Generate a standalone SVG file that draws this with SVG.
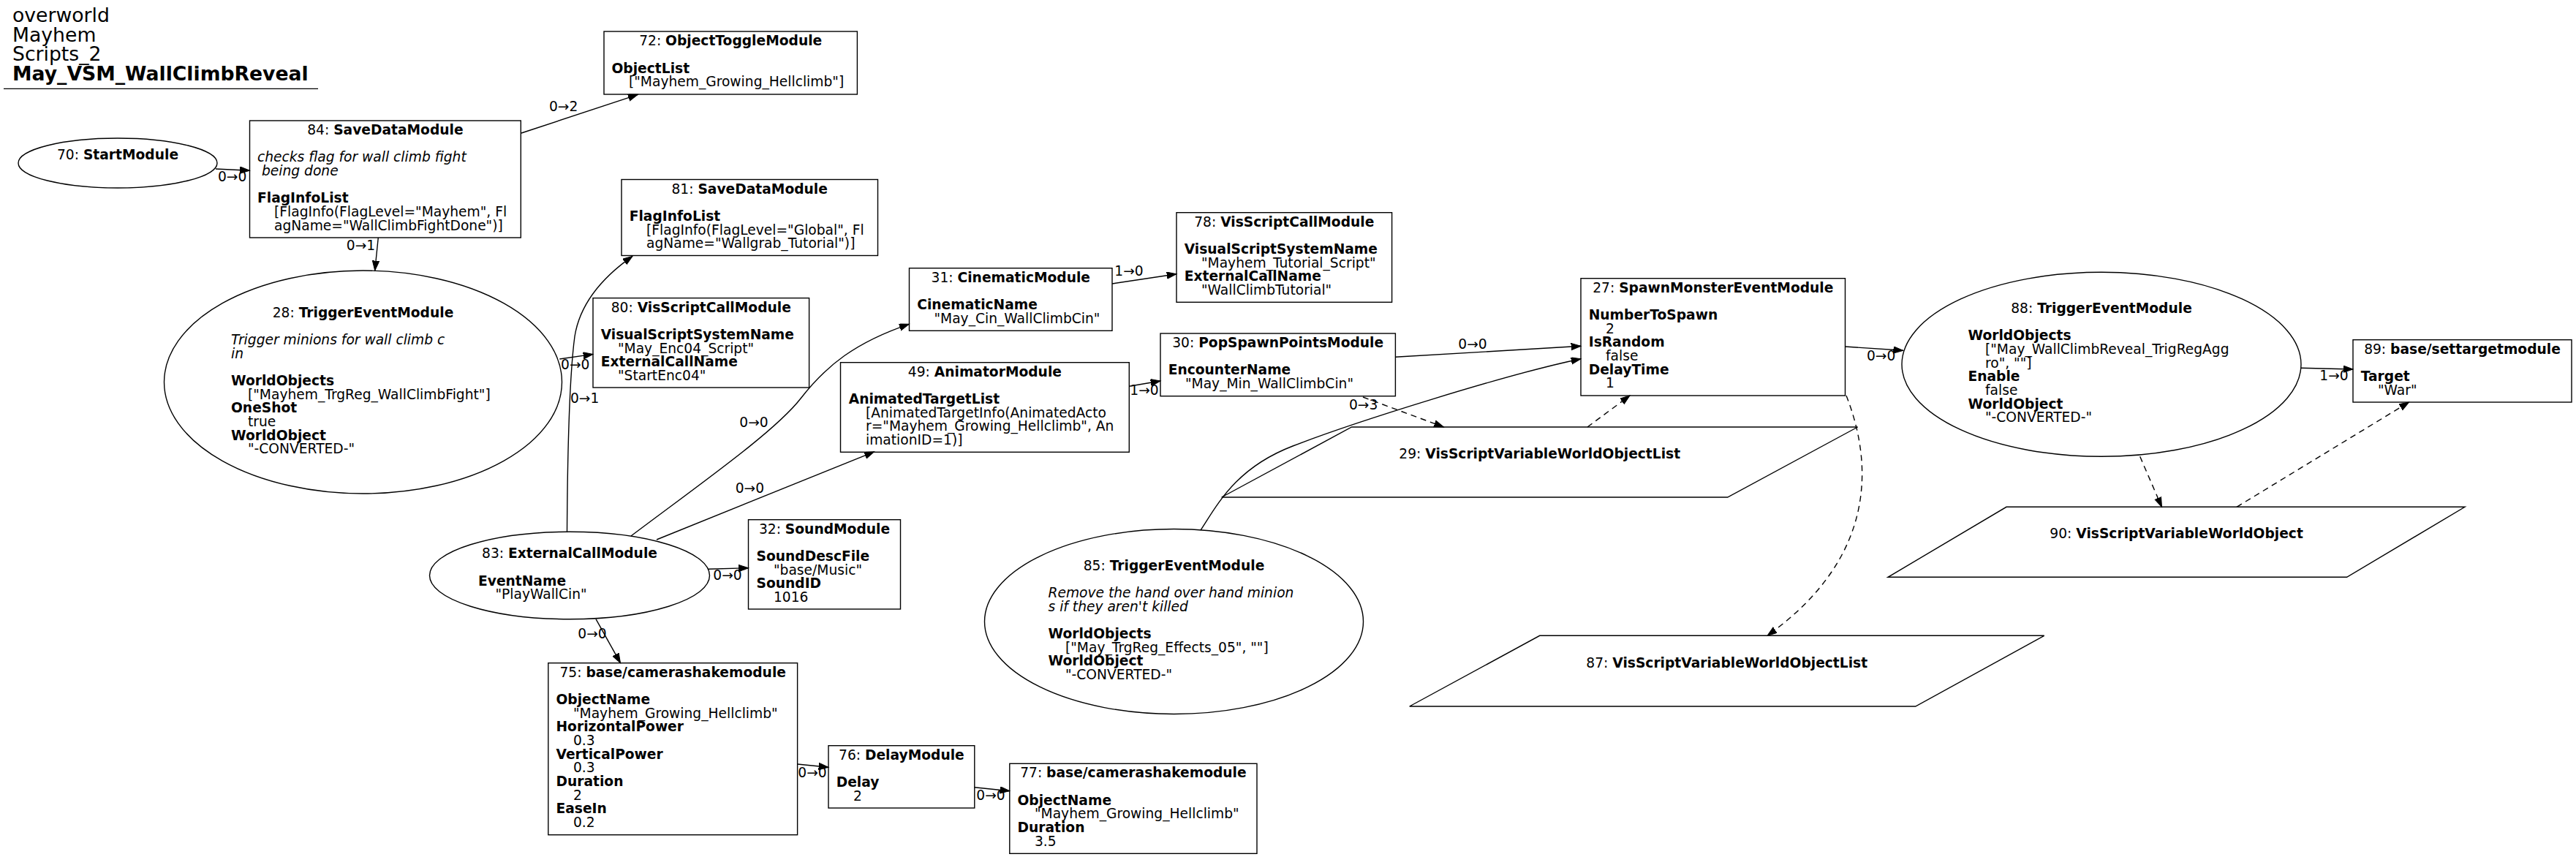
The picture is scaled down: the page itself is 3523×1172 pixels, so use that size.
<svg xmlns="http://www.w3.org/2000/svg" width="3523" height="1172" viewBox="0 0 3523 1172">
<style>
.n{fill:none;stroke:#000;stroke-width:1.4}
.e{fill:none;stroke:#000;stroke-width:1.4}
.d{stroke-dasharray:8,6}
text{font-family:"DejaVu Sans","Liberation Sans",sans-serif;font-size:18.67px;fill:#000}
.c{text-anchor:middle}
.b{font-weight:bold}
.i{font-style:italic}
.h{font-size:26.67px}
</style>
<defs>
<marker id="a" markerWidth="15" markerHeight="11" refX="13.3" refY="4.7" orient="auto" markerUnits="userSpaceOnUse">
<path d="M0,0 L13.3,4.7 L0,9.4 z" fill="#000" stroke="#000" stroke-width="1"/>
</marker>
</defs>
<rect x="0" y="0" width="3523" height="1172" fill="#fff"/>
<g id="title">
<text class="h" x="17" y="30">overworld</text>
<text class="h" x="17" y="56.7">Mayhem</text>
<text class="h" x="17" y="83.3">Scripts_2</text>
<text class="h b" x="17" y="110">May_VSM_WallClimbReveal</text>
<line x1="5" y1="121.4" x2="435" y2="121.4" stroke="#000" stroke-width="1.4"/>
</g>
<g id="edges">
<path class="e" d="M295,231 L341.5,233.3" marker-end="url(#a)"/>
<text class="c" x="317.6" y="248">0→0</text>
<path class="e" d="M713,182 L872.4,129.3" marker-end="url(#a)"/>
<text class="c" x="770.7" y="152">0→2</text>
<path class="e" d="M517.3,325 L512.7,370" marker-end="url(#a)"/>
<text class="c" x="493.5" y="341.7">0→1</text>
<path class="e" d="M765.3,491 L811,484.4" marker-end="url(#a)"/>
<text class="c" x="786.8" y="504.6">0→0</text>
<path class="e" d="M775.5,727 C776,640 778,520 786,460 C794,410 830,375 865,350.4" marker-end="url(#a)"/>
<text class="c" x="799.7" y="550.5">0→1</text>
<path class="e" d="M863,733 C960,660 1060,590 1095,545 C1130,500 1170,468 1243.3,443.3" marker-end="url(#a)"/>
<text class="c" x="1031" y="583.6">0→0</text>
<path class="e" d="M898,738 L1195.5,617.8" marker-end="url(#a)"/>
<text class="c" x="1025.4" y="674">0→0</text>
<path class="e" d="M968.7,778.3 L1023.5,776.7" marker-end="url(#a)"/>
<text class="c" x="995" y="793">0→0</text>
<path class="e" d="M815,846.7 L848.5,906.7" marker-end="url(#a)"/>
<text class="c" x="810" y="873">0→0</text>
<path class="e" d="M1090.6,1045 L1133,1049.3" marker-end="url(#a)"/>
<text class="c" x="1111" y="1063">0→0</text>
<path class="e" d="M1332.8,1076.7 L1380.8,1081.7" marker-end="url(#a)"/>
<text class="c" x="1355" y="1094">0→0</text>
<path class="e" d="M1521,388 L1609,374.7" marker-end="url(#a)"/>
<text class="c" x="1544" y="377">1→0</text>
<path class="e" d="M1544.3,528.3 L1587,521" marker-end="url(#a)"/>
<text class="c" x="1565" y="539.5">1→0</text>
<path class="e" d="M1908.3,488.3 L2162,473.3" marker-end="url(#a)"/>
<text class="c" x="2014" y="477">0→0</text>
<path class="e" d="M1642,725 C1665,690 1690,640 1768,610 C1850,578 2060,512 2162,490.7" marker-end="url(#a)"/>
<path class="e d" d="M1864,543 L1974.4,584" marker-end="url(#a)"/>
<text class="c" x="1864.7" y="560">0→3</text>
<path class="e d" d="M2171,584 L2229,541" marker-end="url(#a)"/>
<path class="e d" d="M2525,541 C2560,630 2570,760 2417,869.3" marker-end="url(#a)"/>
<path class="e" d="M2523.5,474 L2602.7,479.3" marker-end="url(#a)"/>
<text class="c" x="2572.6" y="492.5">0→0</text>
<path class="e" d="M3147,503.3 L3218,505" marker-end="url(#a)"/>
<text class="c" x="3192" y="520">1→0</text>
<path class="e d" d="M2926.7,624.3 L2956.5,693.3" marker-end="url(#a)"/>
<path class="e d" d="M3059,693.3 L3294.6,550" marker-end="url(#a)"/>
</g>
<g id="n70">
<ellipse class="n" cx="161" cy="223" rx="136" ry="34"/>
<text class="c" x="161" y="218">70: <tspan class="b">StartModule</tspan></text>
</g>
<g id="n84">
<rect class="n" x="341.5" y="165" width="370.8" height="160"/>
<text class="c" x="526.9" y="184">84: <tspan class="b">SaveDataModule</tspan></text>
<text class="i" x="352" y="221.3">checks flag for wall climb fight</text>
<text class="i" x="358" y="240">being done</text>
<text class="b" x="352" y="277.3">FlagInfoList</text>
<text x="375" y="296">[FlagInfo(FlagLevel="Mayhem", Fl</text>
<text x="375" y="314.7">agName="WallClimbFightDone")]</text>
</g>
<g id="n72">
<rect class="n" x="826" y="43" width="346.4" height="86"/>
<text class="c" x="999.2" y="62">72: <tspan class="b">ObjectToggleModule</tspan></text>
<text class="b" x="836.5" y="99.5">ObjectList</text>
<text x="860" y="118">["Mayhem_Growing_Hellclimb"]</text>
</g>
<g id="n81">
<rect class="n" x="850" y="245.5" width="350.5" height="104"/>
<text class="c" x="1025.2" y="264.5">81: <tspan class="b">SaveDataModule</tspan></text>
<text class="b" x="860.7" y="302">FlagInfoList</text>
<text x="884" y="320.5">[FlagInfo(FlagLevel="Global", Fl</text>
<text x="884" y="339.2">agName="Wallgrab_Tutorial")]</text>
</g>
<g id="n28">
<ellipse class="n" cx="496.5" cy="522.5" rx="272" ry="152.5"/>
<text class="c" x="496.5" y="433.5">28: <tspan class="b">TriggerEventModule</tspan></text>
<text class="i" x="316" y="470.8">Trigger minions for wall climb c</text>
<text class="i" x="316" y="489.5">in</text>
<text class="b" x="316" y="526.8">WorldObjects</text>
<text x="339" y="545.5">["Mayhem_TrgReg_WallClimbFight"]</text>
<text class="b" x="316" y="564.2">OneShot</text>
<text x="339" y="582.8">true</text>
<text class="b" x="316" y="601.5">WorldObject</text>
<text x="339" y="620.2">"-CONVERTED-"</text>
</g>
<g id="n80">
<rect class="n" x="811" y="407.6" width="295.6" height="122.4"/>
<text class="c" x="958.8" y="426.6">80: <tspan class="b">VisScriptCallModule</tspan></text>
<text class="b" x="821.7" y="463.9">VisualScriptSystemName</text>
<text x="845" y="482.6">"May_Enc04_Script"</text>
<text class="b" x="821.7" y="501.3">ExternalCallName</text>
<text x="845" y="520">"StartEnc04"</text>
</g>
<g id="n83">
<ellipse class="n" cx="779" cy="787" rx="191.5" ry="59.7"/>
<text class="c" x="779" y="763.4">83: <tspan class="b">ExternalCallModule</tspan></text>
<text class="b" x="654" y="800.7">EventName</text>
<text x="677.5" y="819.4">"PlayWallCin"</text>
</g>
<g id="n32">
<rect class="n" x="1023.5" y="710.7" width="208" height="122.3"/>
<text class="c" x="1127.5" y="729.7">32: <tspan class="b">SoundModule</tspan></text>
<text class="b" x="1034.5" y="767">SoundDescFile</text>
<text x="1058" y="785.7">"base/Music"</text>
<text class="b" x="1034.5" y="804.4">SoundID</text>
<text x="1058" y="823">1016</text>
</g>
<g id="n75">
<rect class="n" x="749.8" y="906.7" width="340.8" height="235"/>
<text class="c" x="920.2" y="925.7">75: <tspan class="b">base/camerashakemodule</tspan></text>
<text class="b" x="760.5" y="963">ObjectName</text>
<text x="784" y="981.7">"Mayhem_Growing_Hellclimb"</text>
<text class="b" x="760.5" y="1000.4">HorizontalPower</text>
<text x="784" y="1019">0.3</text>
<text class="b" x="760.5" y="1037.7">VerticalPower</text>
<text x="784" y="1056.4">0.3</text>
<text class="b" x="760.5" y="1075">Duration</text>
<text x="784" y="1093.7">2</text>
<text class="b" x="760.5" y="1112.4">EaseIn</text>
<text x="784" y="1131">0.2</text>
</g>
<g id="n76">
<rect class="n" x="1133" y="1019.7" width="199.8" height="85.3"/>
<text class="c" x="1232.9" y="1038.7">76: <tspan class="b">DelayModule</tspan></text>
<text class="b" x="1143.7" y="1076">Delay</text>
<text x="1167" y="1094.7">2</text>
</g>
<g id="n77">
<rect class="n" x="1380.8" y="1044.3" width="338.2" height="123"/>
<text class="c" x="1549.9" y="1063.3">77: <tspan class="b">base/camerashakemodule</tspan></text>
<text class="b" x="1391.5" y="1100.6">ObjectName</text>
<text x="1415" y="1119.3">"Mayhem_Growing_Hellclimb"</text>
<text class="b" x="1391.5" y="1138">Duration</text>
<text x="1415" y="1156.7">3.5</text>
</g>
<g id="n31">
<rect class="n" x="1243.5" y="366.7" width="277.5" height="85.6"/>
<text class="c" x="1382.3" y="385.7">31: <tspan class="b">CinematicModule</tspan></text>
<text class="b" x="1254.2" y="423">CinematicName</text>
<text x="1277.5" y="441.7">"May_Cin_WallClimbCin"</text>
</g>
<g id="n78">
<rect class="n" x="1609" y="290.7" width="294.6" height="122.6"/>
<text class="c" x="1756.3" y="309.7">78: <tspan class="b">VisScriptCallModule</tspan></text>
<text class="b" x="1619.7" y="347">VisualScriptSystemName</text>
<text x="1643" y="365.7">"Mayhem_Tutorial_Script"</text>
<text class="b" x="1619.7" y="384.4">ExternalCallName</text>
<text x="1643" y="403">"WallClimbTutorial"</text>
</g>
<g id="n49">
<rect class="n" x="1149.5" y="495.7" width="394.8" height="122.6"/>
<text class="c" x="1346.9" y="514.7">49: <tspan class="b">AnimatorModule</tspan></text>
<text class="b" x="1160.7" y="552">AnimatedTargetList</text>
<text x="1184" y="570.7">[AnimatedTargetInfo(AnimatedActo</text>
<text x="1184" y="589.4">r="Mayhem_Growing_Hellclimb", An</text>
<text x="1184" y="608">imationID=1)]</text>
</g>
<g id="n30">
<rect class="n" x="1587" y="456" width="321.4" height="85.7"/>
<text class="c" x="1747.7" y="475">30: <tspan class="b">PopSpawnPointsModule</tspan></text>
<text class="b" x="1597.7" y="512.3">EncounterName</text>
<text x="1621" y="531">"May_Min_WallClimbCin"</text>
</g>
<g id="n27">
<rect class="n" x="2162" y="380.7" width="361.5" height="160.3"/>
<text class="c" x="2342.8" y="399.7">27: <tspan class="b">SpawnMonsterEventModule</tspan></text>
<text class="b" x="2172.7" y="437">NumberToSpawn</text>
<text x="2196" y="455.7">2</text>
<text class="b" x="2172.7" y="474.4">IsRandom</text>
<text x="2196" y="493">false</text>
<text class="b" x="2172.7" y="511.7">DelayTime</text>
<text x="2196" y="530.4">1</text>
</g>
<g id="n29">
<polygon class="n" points="1848.6,584 2540.6,584 2362.7,680 1670.7,680"/>
<text class="c" x="2105.7" y="627">29: <tspan class="b">VisScriptVariableWorldObjectList</tspan></text>
</g>
<g id="n87">
<polygon class="n" points="2105.7,869.3 2795.7,869.3 2619.7,966 1927.7,966"/>
<text class="c" x="2361.7" y="912.7">87: <tspan class="b">VisScriptVariableWorldObjectList</tspan></text>
</g>
<g id="n85">
<ellipse class="n" cx="1605.5" cy="850" rx="259" ry="126.5"/>
<text class="c" x="1605.5" y="779.7">85: <tspan class="b">TriggerEventModule</tspan></text>
<text class="i" x="1433.5" y="816.9">Remove the hand over hand minion</text>
<text class="i" x="1433.5" y="835.6">s if they aren't killed</text>
<text class="b" x="1433.5" y="872.9">WorldObjects</text>
<text x="1457" y="891.6">["May_TrgReg_Effects_05", ""]</text>
<text class="b" x="1433.5" y="910.3">WorldObject</text>
<text x="1457" y="929">"-CONVERTED-"</text>
</g>
<g id="n88">
<ellipse class="n" cx="2874" cy="498.3" rx="273" ry="126"/>
<text class="c" x="2874" y="428">88: <tspan class="b">TriggerEventModule</tspan></text>
<text class="b" x="2691.5" y="465.3">WorldObjects</text>
<text x="2715" y="484">["May_WallClimbReveal_TrigRegAgg</text>
<text x="2715" y="502.7">ro", ""]</text>
<text class="b" x="2691.5" y="521.3">Enable</text>
<text x="2715" y="540">false</text>
<text class="b" x="2691.5" y="558.7">WorldObject</text>
<text x="2715" y="577.3">"-CONVERTED-"</text>
</g>
<g id="n89">
<rect class="n" x="3218" y="464.7" width="299" height="85.3"/>
<text class="c" x="3367.5" y="483.7">89: <tspan class="b">base/settargetmodule</tspan></text>
<text class="b" x="3228.7" y="521">Target</text>
<text x="3252" y="539.7">"War"</text>
</g>
<g id="n90">
<polygon class="n" points="2744,693.3 3371,693.3 3209.6,789.3 2582,789.3"/>
<text class="c" x="2976.6" y="736.3">90: <tspan class="b">VisScriptVariableWorldObject</tspan></text>
</g>
</svg>
